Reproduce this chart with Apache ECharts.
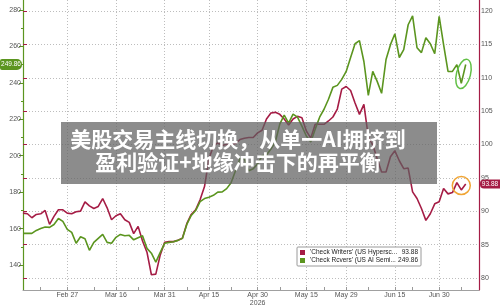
<!DOCTYPE html>
<html><head><meta charset="utf-8">
<script src="https://cdn.jsdelivr.net/npm/echarts@6/dist/echarts.min.js"></script>
<style>html,body{margin:0;padding:0;background:#fff}#c{width:500px;height:307px}</style>
</head><body><div id="c"></div>
<script>
// trading days (category axis)
const dates = [
 'Feb 12','Feb 13','Feb 17','Feb 18','Feb 19','Feb 20','Feb 23','Feb 24','Feb 25','Feb 26','Feb 27',
 'Mar 2','Mar 3','Mar 4','Mar 5','Mar 6','Mar 9','Mar 10','Mar 11','Mar 12','Mar 13','Mar 16','Mar 17','Mar 18','Mar 19','Mar 20','Mar 23','Mar 24','Mar 25','Mar 26','Mar 27','Mar 30','Mar 31',
 'Apr 1','Apr 2','Apr 6','Apr 7','Apr 8','Apr 9','Apr 10','Apr 13','Apr 14','Apr 15','Apr 16','Apr 17','Apr 20','Apr 21','Apr 22','Apr 23','Apr 24','Apr 27','Apr 28','Apr 29','Apr 30',
 'May 1','May 4','May 5','May 6','May 7','May 8','May 11','May 12','May 13','May 14','May 15','May 18','May 19','May 20','May 21','May 22','May 26','May 27','May 28','May 29',
 'Jun 1','Jun 2','Jun 3','Jun 4','Jun 5','Jun 8','Jun 9','Jun 10','Jun 11','Jun 12','Jun 15','Jun 16','Jun 17','Jun 18','Jun 22','Jun 23','Jun 24','Jun 25','Jun 26','Jun 29','Jun 30',
 'Jul 1','Jul 2','Jul 6','Jul 7','Jul 8','Jul 9','Jul 10','Jul 13','Jul 14'
];
const labelDates = ['Feb 27','Mar 16','Mar 31','Apr 15','Apr 30','May 15','May 29','Jun 15','Jun 30'];
const minorTickDates = ['Feb 19','Mar 9','Mar 23','Apr 8','Apr 22','May 7','May 21','Jun 5','Jun 22','Jul 8'];
const yearLabel = {date: 'Apr 30', text: '2026'};

// 'Check Writers' (right axis)
const writers = [
 89.5, 89.4, 88.8, 89.3, 89.4, 89.9, 87.8, 89.0, 90.0, 90.0,
 89.5, 89.4, 89.7, 89.8, 91.2, 90.6, 90.2, 90.5, 91.7, 90.3,
 88.5, 89.1, 89.4, 88.5, 88.1, 86.4, 87.5, 85.3, 83.6, 80.2,
 80.3, 83.2, 85.1, 85.2, 85.2, 85.4, 85.7, 87.9, 89.3, 90.0,
 91.5, 93.5, 97.7, 99.6, 100.1, 99.7, 99.9, 99.8, 100.0, 100.6,
 100.8, 100.9, 100.9, 101.6, 102.0, 103.7, 104.6, 104.7, 104.4, 103.7,
 102.8, 103.7, 104.1, 103.9, 101.9, 100.8, 102.9, 102.9, 102.9, 103.4,
 104.0, 105.2, 108.2, 108.6, 108.0, 106.1, 104.4, 105.9, 101.0, 99.8,
 97.7, 95.7, 95.7, 98.0, 98.9, 97.4, 96.2, 96.3, 92.7, 91.7,
 90.2, 88.4, 89.4, 90.9, 91.2, 93.2, 92.4, 92.6, 94.1, 93.0,
 93.88
];
// 'Check Rcvers' (left axis)
const rcvers = [
 156.5, 156.5, 156.5, 158.1, 159.2, 160.0, 159.8, 161.4, 164.7, 163.1,
 158.7, 157.0, 151.0, 154.6, 153.5, 147.1, 151.5, 153.7, 155.9, 151.5,
 151.0, 154.3, 155.9, 155.2, 155.4, 152.9, 154.1, 155.1, 148.2, 145.5,
 140.6, 146.0, 151.0, 151.5, 151.8, 152.6, 153.7, 161.4, 166.4, 169.1,
 174.0, 175.7, 176.5, 177.5, 179.3, 179.4, 181.2, 184.5, 191.1, 197.7,
 197.7, 191.1, 192.2, 194.9, 199.3, 199.8, 203.1, 207.0, 216.9, 221.8,
 217.4, 222.4, 220.7, 215.8, 210.3, 207.0, 214.1, 220.7, 225.1, 230.6,
 237.2, 238.3, 241.6, 246.0, 253.7, 261.3, 263.0, 251.5, 232.8, 246.0,
 240.5, 233.9, 252.6, 260.8, 266.8, 253.7, 258.0, 271.8, 276.7, 259.1,
 256.4, 264.6, 261.3, 255.8, 276.4, 260.8, 246.0, 246.0, 249.8, 239.4,
 249.86
];
const writersName = "'Check Writers' (US Hypersc...";
const rcversName = "'Check Rcvers' (US AI Semi...";
const titleLines = ['美股交易主线切换，从单一AI拥挤到', '盈利验证+地缘冲击下的再平衡'];

const RED = '#a51c45', GREEN = '#5b951f';
const FONT = '"Liberation Sans", Arial, sans-serif';
const labelIdx = new Set(labelDates.map(d => dates.indexOf(d)));
const tickIdx = new Set([...labelIdx, ...minorTickDates.map(d => dates.indexOf(d))]);
const lastW = writers[writers.length - 1], lastR = rcvers[rcvers.length - 1];

const chart = echarts.init(document.getElementById('c'), null, {renderer: 'canvas'});
const grid = {left: 23, right: 21};
chart.setOption({
  animation: false,
  backgroundColor: '#fff',
  grid: [
    Object.assign({top: 0, bottom: 15}, grid),
    Object.assign({top: 10, bottom: 42}, grid),
    Object.assign({top: 11, bottom: 29}, grid)
  ],
  xAxis: [
    {type: 'category', gridIndex: 0, data: dates, boundaryGap: false,
     axisLine: {lineStyle: {color: '#a0a0a0', width: 1}},
     axisTick: {interval: i => tickIdx.has(i), inside: true, length: 3, lineStyle: {color: '#999'}},
     axisLabel: {interval: i => labelIdx.has(i), margin: 1, fontSize: 7, lineHeight: 8, color: '#555', fontFamily: FONT,
       formatter: v => v === yearLabel.date ? v + '\n' + yearLabel.text : v},
     splitLine: {show: true, interval: i => labelIdx.has(i), lineStyle: {type: [1, 2], color: '#bdbdbd'}}},
    {type: 'value', gridIndex: 1, show: false, min: 0, max: 1},
    {type: 'value', gridIndex: 2, show: false, min: 0, max: 1}
  ],
  yAxis: [
    {type: 'value', gridIndex: 0, position: 'left', min: 125.17, max: 285.49,
     axisLine: {show: true, lineStyle: {color: GREEN, width: 1.2}}, axisTick: {show: false}, axisLabel: {show: false}, splitLine: {show: false}},
    {type: 'value', gridIndex: 0, position: 'right', min: 77.90, max: 121.65,
     axisLine: {show: true, lineStyle: {color: RED, width: 1.2}}, axisTick: {show: false}, axisLabel: {show: false}, splitLine: {show: false}},
    {type: 'value', gridIndex: 1, position: 'left', min: 140, max: 280, interval: 20,
     axisLine: {show: false}, axisTick: {show: true, length: 4, lineStyle: {color: GREEN}},
     minorTick: {show: true, splitNumber: 2, length: 2, lineStyle: {color: GREEN}},
     axisLabel: {margin: 2, fontSize: 7, color: '#555', fontFamily: FONT}, splitLine: {show: false}},
    {type: 'value', gridIndex: 2, position: 'right', min: 80, max: 120, interval: 5,
     axisLine: {show: false}, axisTick: {show: true, length: 4, lineStyle: {color: RED}},
     axisLabel: {margin: 2, fontSize: 7, color: '#555', fontFamily: FONT},
     splitLine: {show: true, lineStyle: {type: [1, 2], color: '#bdbdbd'}}}
  ],
  legend: {
    left: 297, top: 247, orient: 'vertical', selectedMode: false,
    backgroundColor: '#fff', borderColor: '#9a9a9a', borderWidth: 1, borderRadius: 1,
    padding: [2, 3, 2, 3], itemGap: 1, itemWidth: 5, itemHeight: 5, icon: 'rect',
    textStyle: {fontSize: 6.5, color: '#222', fontFamily: FONT,
      rich: {n: {width: 89, fontSize: 6.5, fontFamily: FONT, color: '#222'}, v: {width: 19, align: 'right', fontSize: 6.5, fontFamily: FONT, color: '#222'}}},
    formatter: n => '{n|' + n + '}{v|' + (n === writersName ? lastW.toFixed(2) : lastR.toFixed(2)) + '}',
    data: [writersName, rcversName]
  },
  series: [
    {name: writersName, type: 'line', xAxisIndex: 0, yAxisIndex: 1, data: writers, symbol: 'none', color: RED,
     lineStyle: {width: 1.6, color: RED}, z: 3},
    {name: rcversName, type: 'line', xAxisIndex: 0, yAxisIndex: 0, data: rcvers, symbol: 'none', color: GREEN,
     lineStyle: {width: 1.6, color: GREEN}, z: 4}
  ]
});

// annotations positioned from the data through the chart's scales
const nW = writers.length - 1, nR = rcvers.length - 1;
const pW = chart.convertToPixel({seriesIndex: 0}, [nW, lastW]);
const pR = chart.convertToPixel({seriesIndex: 1}, [nR, lastR]);
const pRprev = chart.convertToPixel({seriesIndex: 1}, [nR - 1, rcvers[nR - 1]]);
const pWprev = chart.convertToPixel({seriesIndex: 0}, [nW - 1, writers[nW - 1]]);
const pWprev2 = chart.convertToPixel({seriesIndex: 0}, [nW - 2, writers[nW - 2]]);

chart.setOption({
  graphic: [
    {type: 'rect', z: 100, shape: {x: 61, y: 122, width: 376, height: 62}, style: {fill: 'rgba(95,95,95,0.72)'}},
    {type: 'text', z: 101, style: {text: titleLines.join('\n'), x: 238, y: 150.5,
      font: 'bold 21px "Noto Sans CJK SC", sans-serif', fill: '#fff', lineHeight: 23.5,
      align: 'center', verticalAlign: 'middle', textAlign: 'center', textVerticalAlign: 'middle'}},
    {type: 'rect', z: 102, shape: {x: 0, y: pR[1] - 5.5, width: 22, height: 11, r: [2, 5, 5, 2]}, style: {fill: GREEN}},
    {type: 'text', z: 103, style: {text: lastR.toFixed(2), x: 11, y: pR[1], font: '6.5px ' + FONT, fill: '#fff',
      align: 'center', verticalAlign: 'middle', textAlign: 'center', textVerticalAlign: 'middle'}},
    {type: 'rect', z: 102, shape: {x: 480, y: pW[1] - 4.5, width: 24, height: 9, r: [4, 0, 0, 4]}, style: {fill: RED}},
    {type: 'text', z: 103, style: {text: lastW.toFixed(2), x: 490, y: pW[1], font: '6.5px ' + FONT, fill: '#fff',
      align: 'center', verticalAlign: 'middle', textAlign: 'center', textVerticalAlign: 'middle'}},
    {type: 'ellipse', z: 104, x: (pR[0] + pRprev[0]) / 2, y: (pR[1] + pRprev[1]) / 2, rotation: -0.25,
      shape: {cx: 0, cy: 0, rx: 7, ry: 15}, style: {fill: 'none', stroke: '#62c046', lineWidth: 1.5}},
    {type: 'circle', z: 104, shape: {cx: pWprev[0], cy: (pW[1] + pWprev[1] + pWprev2[1]) / 3, r: 9},
      style: {fill: 'none', stroke: '#f0a535', lineWidth: 1.5}}
  ]
});
</script>
</body></html>
